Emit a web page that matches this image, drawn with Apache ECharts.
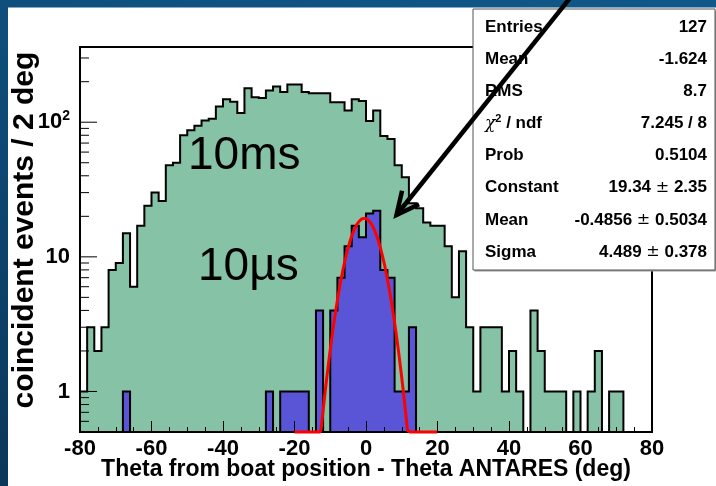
<!DOCTYPE html>
<html>
<head>
<meta charset="utf-8">
<script src="https://cdn.jsdelivr.net/npm/echarts@6/dist/echarts.min.js"></script>
<style>
  html, body { margin: 0; padding: 0; background: #ffffff; }
  #chart { width: 716px; height: 486px; }
</style>
</head>
<body>
<div id="chart"></div>
<script>
// Angular difference between boat position and ANTARES reconstruction, 2-degree bins
const binStart = -80;
const binWidth = 2;

// Coincidences within a 10 ms window
const countsMs = [
  1, 3, 2, 3, 8, 9, 15, 6, 17, 24,
  30, 26, 48, 50, 80, 87, 94, 103, 106, 131,
  148, 142, 117, 179, 153, 151, 172, 184, 168, 191,
  191, 168, 164, 164, 164, 141, 141, 122, 148, 144,
  102, 122, 79, 75, 48, 39, 25, 23, 18, 17,
  17, 12, 5, 11, 3, 1, 3, 3, 3, 1,
  2, 1, 0, 4, 2, 1, 1, 1, 0, 1,
  0, 1, 2, 0, 1, 1, 0, 0, 0, 0
];

// Coincidences within a 10 µs window
const countsUs = [
  0, 0, 0, 0, 0, 0, 1, 0, 0, 0,
  0, 0, 0, 0, 0, 0, 0, 0, 0, 0,
  0, 0, 0, 0, 0, 0, 1, 0, 1, 1,
  1, 1, 0, 4, 0, 4, 7, 12, 17, 14,
  21, 22, 8, 7, 1, 1, 3, 0, 0, 0,
  0, 0, 0, 0, 0, 0, 0, 0, 0, 0,
  0, 0, 0, 0, 0, 0, 0, 0, 0, 0,
  0, 0, 0, 0, 0, 0, 0, 0, 0, 0
];

// Gaussian fit of the 10 µs distribution
const fitConstant = 19.34;
const fitMean = -0.4856;
const fitSigma = 4.489;
const fitRange = [-20, 20];

// Axis ranges and ticks
const xMin = -80, xMax = 80, xStep = 20;
const yMin = 0.5, yMax = 362;
const yMajorTicks = [1, 10, 100];
const yMinorTicks = [0.6, 0.7, 0.8, 0.9, 2, 3, 4, 5, 6, 7, 8, 9,
                     20, 30, 40, 50, 60, 70, 80, 90, 200, 300];

// Statistics box rows
const statLabels = ['Entries', 'Mean', 'RMS', '{chi|χ}{sup|2}{b| / ndf}', 'Prob', 'Constant', 'Mean', 'Sigma'];
const statValues = ['127', '-1.624', '8.7', '7.245 / 8', '0.5104',
                    '19.34 {pm|±} 2.35', '-0.4856 {pm|±} 0.5034', '4.489 {pm|±} 0.378'];

const FONT = '"Liberation Sans", Arial, Helvetica, sans-serif';
const GREEN = '#86c2a6';
const BLUE = '#5a55d7';

const chart = echarts.init(document.getElementById('chart'), null, { renderer: 'canvas' });

// Histogram drawn as one filled step polygon plus its step outline
function histSeries(name, counts, color, z) {
  return {
    type: 'custom', name, z, clip: true,
    data: [[binStart, 1]],
    renderItem(params, api) {
      const pts = [api.coord([binStart, yMin])];
      counts.forEach((c, i) => {
        const v = c > 0 ? c : yMin;
        const x0 = binStart + i * binWidth;
        pts.push(api.coord([x0, v]));
        pts.push(api.coord([x0 + binWidth, v]));
      });
      pts.push(api.coord([binStart + counts.length * binWidth, yMin]));
      return {
        type: 'group',
        children: [
          { type: 'polygon', shape: { points: pts }, style: { fill: color, stroke: null } },
          { type: 'polyline', shape: { points: pts },
            style: { stroke: '#000', lineWidth: 2, fill: null, lineJoin: 'miter' } }
        ]
      };
    }
  };
}

// Fit curve from the fitted parameters, held at the axis floor like ROOT does
const fitPoints = [];
for (let k = 0; k <= 400; k++) {
  const x = fitRange[0] + (fitRange[1] - fitRange[0]) * k / 400;
  const f = fitConstant * Math.exp(-0.5 * Math.pow((x - fitMean) / fitSigma, 2));
  fitPoints.push([x, Math.max(f, yMin)]);
}

// Log-axis tick marks drawn on the left edge
function yTickSeries(values, len) {
  return {
    type: 'custom', z: 20, silent: true, clip: false,
    data: values.map(v => [xMin, v]),
    renderItem(params, api) {
      const p = api.coord([api.value(0), api.value(1)]);
      return {
        type: 'line',
        shape: { x1: p[0], y1: p[1], x2: p[0] + len, y2: p[1] },
        style: { stroke: '#000', lineWidth: 1 }
      };
    }
  };
}

function isPow10(v, p) { return Math.abs(Math.log10(v) - p) < 1e-6; }

// Stats box
const boxX = 473, boxY = 9, boxW = 242, boxH = 261;
const rowY0 = 27, rowStep = 32.15;
const statText = [];
statLabels.forEach((lab, i) => {
  statText.push({
    type: 'text', z: 102, x: 485, y: rowY0 + i * rowStep,
    style: {
      text: lab, fill: '#000',
      font: 'bold 17px ' + FONT,
      align: 'left', verticalAlign: 'middle', textAlign: 'left', textVerticalAlign: 'middle',
      rich: {
        chi: { fontFamily: '"DejaVu Serif", serif', fontStyle: 'italic', fontSize: 17, fill: '#000' },
        sup: { fontFamily: FONT, fontSize: 11, fontWeight: 'bold', fill: '#000', padding: [0, 0, 9, 0] },
        b: { fontFamily: FONT, fontSize: 17, fontWeight: 'bold', fill: '#000' }
      }
    }
  });
  statText.push({
    type: 'text', z: 102, x: 707, y: rowY0 + i * rowStep,
    style: {
      text: statValues[i], fill: '#000',
      font: 'bold 17px ' + FONT,
      align: 'right', verticalAlign: 'middle', textAlign: 'right', textVerticalAlign: 'middle',
      rich: {
        pm: { fontFamily: '"DejaVu Sans", sans-serif', fontSize: 16, fill: '#000' }
      }
    }
  });
});

// Arrow pointing at the 10 µs peak
const arrowStart = [570, -2];
const arrowTip = [396.5, 215];
const ang = Math.atan2(arrowStart[1] - arrowTip[1], arrowStart[0] - arrowTip[0]);
const headLen = 25, headSpread = 0.45;
const wing1 = [arrowTip[0] + headLen * Math.cos(ang - headSpread), arrowTip[1] + headLen * Math.sin(ang - headSpread)];
const wing2 = [arrowTip[0] + headLen * Math.cos(ang + headSpread), arrowTip[1] + headLen * Math.sin(ang + headSpread)];

const option = {
  backgroundColor: '#ffffff',
  animation: false,
  grid: {
    left: 80, top: 47, right: 64, bottom: 54,
    show: true, borderColor: '#000', borderWidth: 2, backgroundColor: '#ffffff'
  },
  xAxis: {
    type: 'value', min: xMin, max: xMax, interval: xStep, z: 10,
    axisLine: { show: true, onZero: false, lineStyle: { color: '#000', width: 2 } },
    axisTick: { show: true, inside: true, length: 11, lineStyle: { color: '#000', width: 1 } },
    minorTick: { show: true, splitNumber: 4, length: 5, lineStyle: { color: '#000', width: 1 } },
    splitLine: { show: false },
    axisLabel: {
      show: true, margin: 6, color: '#000',
      fontFamily: FONT, fontWeight: 'bold', fontSize: 22
    }
  },
  yAxis: {
    type: 'log', logBase: 10, min: yMin, max: yMax, z: 10,
    axisLine: { show: true, onZero: false, lineStyle: { color: '#000', width: 2 } },
    axisTick: { show: false },
    splitLine: { show: false },
    axisLabel: {
      show: true, margin: 10, color: '#000',
      showMinLabel: false, showMaxLabel: false,
      fontFamily: FONT, fontWeight: 'bold', fontSize: 22,
      formatter: v => isPow10(v, 0) ? '1' : isPow10(v, 1) ? '10' : isPow10(v, 2) ? '10{s|2}' : '',
      rich: {
        s: { fontFamily: FONT, fontWeight: 'bold', fontSize: 14, color: '#000', padding: [0, 0, 12, 0] }
      }
    }
  },
  series: [
    histSeries('10ms', countsMs, GREEN, 2),
    histSeries('10µs', countsUs, BLUE, 4),
    {
      type: 'line', name: 'gaus', z: 12, data: fitPoints,
      showSymbol: false, clip: false, smooth: false,
      lineStyle: { color: '#ff0000', width: 3 }
    },
    yTickSeries(yMajorTicks, 17),
    yTickSeries(yMinorTicks, 9)
  ],
  graphic: [
    // slide frame bands
    { type: 'rect', z: 1, shape: { x: 0, y: 0, width: 716, height: 7.5 },
      style: { fill: new echarts.graphic.LinearGradient(0, 0, 1, 0, [
        { offset: 0, color: '#0f4f7d' }, { offset: 1, color: '#10588a' }]) } },
    { type: 'rect', z: 1, shape: { x: 0, y: 0, width: 8, height: 486 },
      style: { fill: new echarts.graphic.LinearGradient(0, 0, 0, 1, [
        { offset: 0, color: '#0f4f7d' }, { offset: 1, color: '#0b3759' }]) } },
    // annotations
    { type: 'text', z: 30, x: 188, y: 156,
      style: { text: '10ms', fill: '#000', font: '46px ' + FONT,
               align: 'left', verticalAlign: 'middle', textAlign: 'left', textVerticalAlign: 'middle' } },
    { type: 'text', z: 30, x: 198, y: 267,
      style: { text: '10µs', fill: '#000', font: '46px ' + FONT,
               align: 'left', verticalAlign: 'middle', textAlign: 'left', textVerticalAlign: 'middle' } },
    // axis titles
    { type: 'text', z: 30, x: 366, y: 470,
      style: { text: 'Theta from boat position - Theta ANTARES (deg)', fill: '#000',
               font: 'bold 23px ' + FONT,
               align: 'center', verticalAlign: 'middle', textAlign: 'center', textVerticalAlign: 'middle' } },
    { type: 'text', z: 30, x: 25, y: 230, rotation: Math.PI / 2,
      style: { text: 'coincident events / 2 deg', fill: '#000',
               font: 'bold 30px ' + FONT,
               align: 'center', verticalAlign: 'middle', textAlign: 'center', textVerticalAlign: 'middle' } },
    // stats box
    { type: 'rect', z: 100, shape: { x: boxX + 1.5, y: boxY + 1.5, width: boxW, height: boxH },
      style: { fill: '#9a9a9a' } },
    { type: 'rect', z: 101, shape: { x: boxX, y: boxY, width: boxW, height: boxH },
      style: { fill: '#ffffff', stroke: '#555555', lineWidth: 1 } },
    ...statText,
    // arrow
    { type: 'line', z: 110, shape: { x1: arrowStart[0], y1: arrowStart[1], x2: arrowTip[0], y2: arrowTip[1] },
      style: { stroke: '#000', lineWidth: 4.5 } },
    { type: 'polyline', z: 110, shape: { points: [wing1, arrowTip, wing2] },
      style: { stroke: '#000', lineWidth: 4.5, fill: null, lineJoin: 'miter' } }
  ]
};

chart.setOption(option);
</script>
</body>
</html>
